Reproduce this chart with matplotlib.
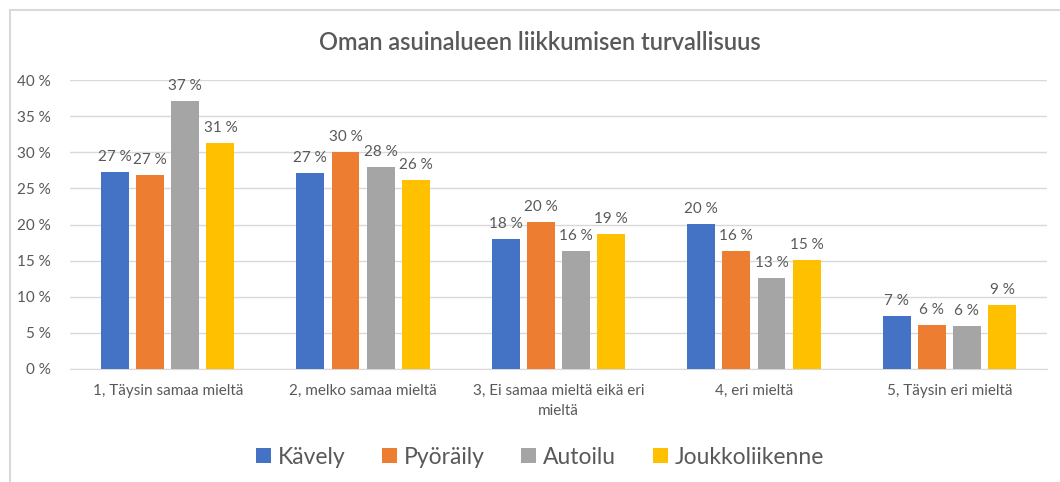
import numpy as np
import matplotlib.pyplot as plt
from matplotlib.lines import Line2D

plt.rcParams['font.family'] = ['Lato', 'DejaVu Sans']

categories = ['1, Täysin samaa mieltä', '2, melko samaa mieltä',
              '3, Ei samaa mieltä eikä eri\nmieltä', '4, eri mieltä',
              '5, Täysin eri mieltä']
series = ['Kävely', 'Pyöräily', 'Autoilu', 'Joukkoliikenne']
kavely = [27.3, 27.1, 18.0, 20.1, 7.4]
pyoraily = [26.9, 30.0, 20.4, 16.3, 6.1]
autoilu = [37.1, 28.0, 16.3, 12.6, 6.0]
joukko = [31.3, 26.2, 18.7, 15.1, 8.8]
labels = [[27, 27, 18, 20, 7], [27, 30, 20, 16, 6],
          [37, 28, 16, 13, 6], [31, 26, 19, 15, 9]]
colors = ['#4472C4', '#ED7D31', '#A5A5A5', '#FFC000']
text_col = '#595959'

fig = plt.figure(figsize=(10.6, 4.82), dpi=100)
ax = fig.add_axes([70 / 1060, 1 - 369 / 482, 977 / 1060, 289 / 482])

x = np.arange(len(categories))
width = 0.143
step = 0.18
for i, (vals, name) in enumerate(zip([kavely, pyoraily, autoilu, joukko], series)):
    pos = x + (i - 1.5) * step
    bars = ax.bar(pos, vals, width, color=colors[i], label=name, zorder=3)
    for b, lab in zip(bars, labels[i]):
        ax.text(b.get_x() + b.get_width() / 2, b.get_height() + 1.1, f'{lab} %',
                ha='center', va='bottom', fontsize=11, color=text_col)

ax.set_xlim(-0.5, 4.5)
ax.set_ylim(0, 40)
ax.set_yticks(range(0, 41, 5))
ax.set_yticklabels([f'{v} %' for v in range(0, 41, 5)])
ax.set_xticks(x)
ax.set_xticklabels(categories, linespacing=1.5)
ax.tick_params(axis='both', length=0, labelsize=11, colors=text_col)
ax.tick_params(axis='x', pad=11)
ax.tick_params(axis='y', pad=14)
ax.grid(axis='y', color='#D9D9D9', linewidth=1, zorder=0)
for s in ax.spines.values():
    s.set_visible(False)
ax.spines['bottom'].set_visible(True)
ax.spines['bottom'].set_color('#D9D9D9')

fig.text(540 / 1060, 1 - 43 / 482, 'Oman asuinalueen liikkumisen turvallisuus',
         ha='center', va='center', fontsize=17, fontweight='semibold', color=text_col)

fig.legend(loc='center', bbox_to_anchor=(540 / 1060, 1 - 457 / 482), ncol=4,
           frameon=False, fontsize=16.5, labelcolor=text_col, handlelength=0.65,
           handleheight=0.65, handletextpad=0.3, columnspacing=1.6)

# chart frame (left and top edges visible)
fig.add_artist(Line2D([10 / 1060, 10 / 1060], [0, 1 - 10 / 482],
                      transform=fig.transFigure, color='#D9D9D9', linewidth=1.5))
fig.add_artist(Line2D([10 / 1060, 1], [1 - 10 / 482, 1 - 10 / 482],
                      transform=fig.transFigure, color='#D9D9D9', linewidth=1.5))

fig.savefig('out.png', dpi=100, facecolor='white')
